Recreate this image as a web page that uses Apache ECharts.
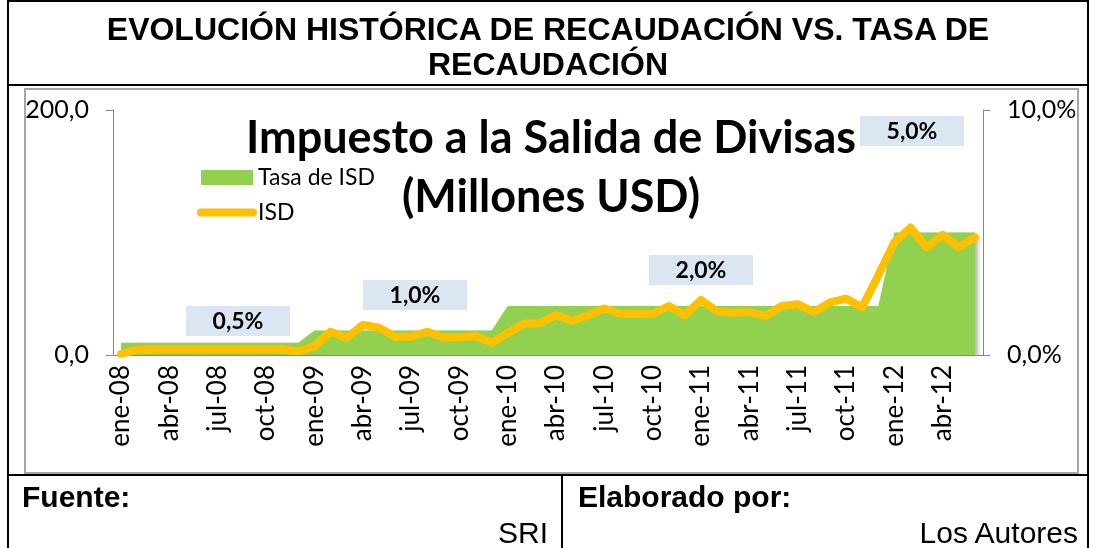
<!DOCTYPE html>
<html>
<head>
<meta charset="utf-8">
<script src="https://cdn.jsdelivr.net/npm/echarts@6.0.0/dist/echarts.min.js"></script>
<style>
  html, body { margin: 0; padding: 0; background: #fff; }
  #page { position: relative; width: 1093px; height: 548px; overflow: hidden;
          font-family: "Liberation Sans", Arial, sans-serif; color: #000; }
  #chart { position: absolute; left: 0; top: 0; width: 1093px; height: 548px; }
  .rule { position: absolute; background: #000; }
  .frame { position: absolute; left: 24px; top: 88px; width: 1051px; height: 382px;
           border: 2px solid #a6a6a6; box-sizing: content-box; }
  .title { position: absolute; left: 8px; width: 1080px; top: 12px; text-align: center;
           font-weight: bold; font-size: 32px; line-height: 35px; }
  .cell { position: absolute; white-space: nowrap; font-size: 30px; line-height: 30px; }
</style>
</head>
<body>
<div id="page">
  <div class="frame"></div>
  <div id="chart"></div>

  <div class="title">EVOLUCIÓN HISTÓRICA DE RECAUDACIÓN VS. TASA DE<br>RECAUDACIÓN</div>

  <div class="rule" style="left:8px; top:0; width:1081px; height:2px"></div>
  <div class="rule" style="left:7px; top:0; width:2px; height:548px"></div>
  <div class="rule" style="left:1087px; top:0; width:2px; height:548px"></div>
  <div class="rule" style="left:8px; top:84px; width:1081px; height:2px"></div>
  <div class="rule" style="left:8px; top:474px; width:1081px; height:2px"></div>
  <div class="rule" style="left:561px; top:474px; width:2px; height:74px"></div>

  <div class="cell" style="left:22px; top:482px; font-weight:bold">Fuente:</div>
  <div class="cell" style="right:545px; top:518px">SRI</div>
  <div class="cell" style="left:578px; top:482px; font-weight:bold">Elaborado por:</div>
  <div class="cell" style="right:15px; top:518px">Los Autores</div>
</div>

<script>
// meses ene-08 .. jun-12
const monthNames = ['ene', 'feb', 'mar', 'abr', 'may', 'jun', 'jul', 'ago', 'sep', 'oct', 'nov', 'dic']
const years = ['08', '09', '10', '11', '12']
const months = []
years.forEach((y) => monthNames.forEach((m) => months.push(m + '-' + y)))
months.length = 54

// recaudación ISD, millones USD
const isdValues = [
  1, 4, 4.5, 5, 5, 5, 5, 5, 5, 5, 4.5, 3,
  7, 19, 14, 24.5, 22.5, 15, 15, 19, 14.5, 14.5, 15.5, 10,
  18, 25.5, 26, 32.5, 28, 32.5, 38, 33.5, 33.5, 33.5, 40, 32.5,
  45, 35.5, 34.5, 35, 32, 40, 41.5, 35, 43, 46, 39, 65,
  92, 104, 88, 98, 88, 96,
]

// tasa del impuesto, %
const rateValues = [
  0.5, 0.5, 0.5, 0.5, 0.5, 0.5, 0.5, 0.5, 0.5, 0.5, 0.5, 0.5,
  1, 1, 1, 1, 1, 1, 1, 1, 1, 1, 1, 1,
  2, 2, 2, 2, 2, 2, 2, 2, 2, 2, 2, 2,
  2, 2, 2, 2, 2, 2, 2, 2, 2, 2, 2, 2,
  5, 5, 5, 5, 5, 5,
]

const rateLabels = ['0,5%', '1,0%', '2,0%', '5,0%']
const rateBoxes = [[186, 306], [363, 280], [649, 255], [860, 116]]

const chartFont = 'Lato, "Open Sans", sans-serif'
const axisGrey = '#868686'

const fmt = (v) => v.toFixed(1).replace('.', ',')

const chart = echarts.init(document.getElementById('chart'))

const boxes = rateLabels.map((label, i) => ({
  type: 'group',
  x: rateBoxes[i][0],
  y: rateBoxes[i][1],
  children: [
    { type: 'rect', shape: { x: 0, y: 0, width: 104, height: 30 }, style: { fill: '#dce6f2' } },
    {
      type: 'text',
      x: 52,
      y: 16,
      style: {
        text: label,
        font: 'bold 23px ' + chartFont,
        fill: '#000',
        align: 'center',
        verticalAlign: 'middle',
      },
    },
  ],
}))

const titleText = (text, y) => ({
  type: 'text',
  x: 551,
  y: y,
  z: 10,
  style: {
    text: text,
    font: 'bold 45px ' + chartFont,
    fill: '#000',
    align: 'center',
    verticalAlign: 'middle',
  },
})

chart.setOption({
  animation: false,
  textStyle: { fontFamily: chartFont },
  grid: { left: 113, right: 110, top: 110, bottom: 193 },
  legend: {
    orient: 'vertical',
    left: 197,
    top: 166,
    padding: 0,
    itemWidth: 52,
    itemHeight: 15,
    itemGap: 12,
    textStyle: { fontSize: 23, color: '#000', fontFamily: chartFont },
    data: [
      { name: 'Tasa de ISD', icon: 'rect' },
      { name: 'ISD', itemStyle: { opacity: 0 }, lineStyle: { width: 8, cap: 'round', color: '#ffc000' } },
    ],
  },
  xAxis: {
    type: 'category',
    data: months,
    boundaryGap: true,
    axisLine: { lineStyle: { color: axisGrey } },
    axisTick: { interval: 2, length: 6, lineStyle: { color: axisGrey } },
    axisLabel: { interval: 2, rotate: 90, margin: 10, fontSize: 26, color: '#000', fontFamily: chartFont },
  },
  yAxis: [
    {
      type: 'value',
      min: 0,
      max: 200,
      interval: 200,
      axisLine: { show: true, lineStyle: { color: axisGrey } },
      axisTick: { show: true, length: 7, lineStyle: { color: axisGrey } },
      splitLine: { show: false },
      axisLabel: { margin: 24, fontSize: 25, color: '#000', fontFamily: chartFont, formatter: fmt },
    },
    {
      type: 'value',
      min: 0,
      max: 10,
      interval: 10,
      position: 'right',
      axisLine: { show: true, lineStyle: { color: axisGrey } },
      axisTick: { show: true, length: 7, lineStyle: { color: axisGrey } },
      splitLine: { show: false },
      axisLabel: { margin: 24, fontSize: 25, color: '#000', fontFamily: chartFont, formatter: (v) => fmt(v) + '%' },
    },
  ],
  series: [
    {
      name: 'Tasa de ISD',
      type: 'line',
      yAxisIndex: 1,
      data: rateValues,
      symbol: 'none',
      color: '#92d050',
      lineStyle: { width: 0 },
      areaStyle: {
        color: '#92d050',
        opacity: 1,
        shadowColor: 'rgba(0,0,0,0.3)',
        shadowBlur: 4,
        shadowOffsetX: 3,
        shadowOffsetY: 2,
      },
      z: 1,
    },
    {
      name: 'ISD',
      type: 'line',
      yAxisIndex: 0,
      data: isdValues,
      symbol: 'none',
      color: '#ffc000',
      lineStyle: { width: 8, color: '#ffc000', cap: 'round', join: 'round' },
      z: 3,
    },
  ],
  graphic: [
    titleText('Impuesto a la Salida de Divisas', 138),
    titleText('(Millones USD)', 197),
    ...boxes,
  ],
})
</script>
</body>
</html>
